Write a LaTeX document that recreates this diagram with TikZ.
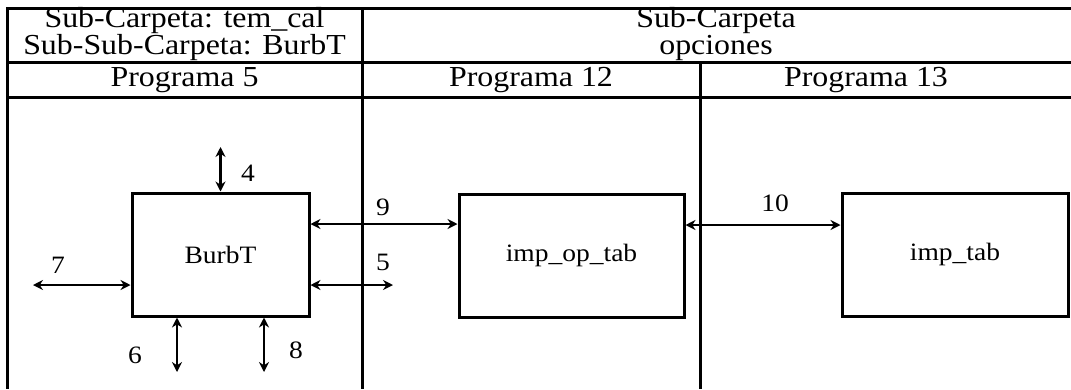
\documentclass[tikz,border=0pt]{standalone}
\usepackage{fontspec}
\setmainfont[FakeStretch=1.1]{Liberation Serif}
\usetikzlibrary{arrows.meta}
\begin{document}
\begin{tikzpicture}[x=1pt,y=-1pt,
  grid/.style={line width=3pt},
  blk/.style={draw, line width=3pt, inner sep=0pt, font=\fontsize{25}{28}\selectfont},
  conn/.style={line width=2.4pt, {Stealth[length=10pt,width=10pt]}-{Stealth[length=10pt,width=10pt]}},
  hdr/.style={font=\fontsize{29}{27}\selectfont, align=center, inner sep=0pt},
  lbl/.style={font=\fontsize{25}{28}\selectfont, inner sep=0pt}]
\useasboundingbox (0,0) rectangle (1071,389);
% table grid
\draw[grid] (1071,8) -- (7,8) -- (7,389);
\draw[grid] (7,62) -- (1071,62);
\draw[grid] (7,97) -- (1071,97);
\draw[grid] (362,8) -- (362,389);
\draw[grid] (700,62) -- (700,389);
% headers
\node[hdr] (h1) at (184.5,34) {Sub-Carpeta: tem\_cal\\Sub-Sub-Carpeta: BurbT};
\node[hdr] (h2) at (716,34) {Sub-Carpeta\\opciones};
\node[hdr] (p5) at (184.5,80) {Programa 5};
\node[hdr] (p12) at (531,80) {Programa 12};
\node[hdr] (p13) at (866,80) {Programa 13};
% blocks
\node[blk, minimum width=177pt, minimum height=123pt] (burbt) at (220.5,254.5) {BurbT};
\node[blk, minimum width=225pt, minimum height=123pt] (impop) at (571.5,255.5) {imp\_op\_tab};
\node[blk, minimum width=226pt, minimum height=123pt] (imptab) at (955,254.5) {imp\_tab};
% free ends
\coordinate (c4) at (220.5,147);
\coordinate (c7) at (33,285);
\coordinate (c5) at (393,285);
\coordinate (c6) at (177,372);
\coordinate (c8) at (264,372);
\coordinate (y9) at (400,224);
\coordinate (y10) at (770,225);
% connectors
\draw[conn] (c4) -- (burbt.north);
\draw[conn] (c7) -- (burbt.west |- c7);
\draw[conn] (burbt.east |- c5) -- (c5);
\draw[conn] (c6 |- burbt.south) -- (c6);
\draw[conn] (c8 |- burbt.south) -- (c8);
\draw[conn] (burbt.east |- y9) -- (impop.west |- y9);
\draw[conn] (impop.east |- y10) -- (imptab.west |- y10);
% labels
\node[lbl] (l4) at (248,173) {4};
\node[lbl] (l7) at (58,265) {7};
\node[lbl] (l9) at (383,207) {9};
\node[lbl] (l5) at (383,262) {5};
\node[lbl] (l6) at (135,355) {6};
\node[lbl] (l8) at (296,350) {8};
\node[lbl] (l10) at (775,203) {10};
\end{tikzpicture}
\end{document}
